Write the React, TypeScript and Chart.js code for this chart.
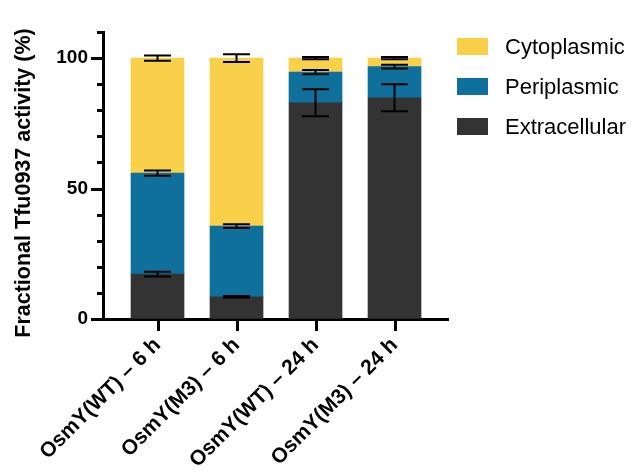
import React, { useEffect, useRef } from 'react';
import { Chart, registerables } from 'chart.js';

Chart.register(...registerables);

const categories = ['OsmY(WT) – 6 h', 'OsmY(M3) – 6 h', 'OsmY(WT) – 24 h', 'OsmY(M3) – 24 h'];
const extracellular = [17.2, 8.5, 82.9, 84.8];
const periplasmic = [38.7, 27.1, 11.7, 11.9];
const cytoplasmic = [44.1, 64.4, 5.4, 3.3];
const extracellularErr = [0.9, 0.3, 5.2, 5.2];
const periplasmicErr = [1.0, 0.7, 0.8, 0.7];
const cytoplasmicErr = [1.0, 1.5, 0.4, 0.4];
const seriesNames = ['Extracellular', 'Periplasmic', 'Cytoplasmic'];
const seriesColors = ['#333333', '#0E709B', '#F9D04A'];
const yMajorLabels = [0, 50, 100];
const yTitle = 'Fractional Tfu0937 activity (%)';

const FONT = "'Liberation Sans', Arial, Helvetica, sans-serif";

const seriesValues = [extracellular, periplasmic, cytoplasmic];
const seriesErrors = [extracellularErr, periplasmicErr, cytoplasmicErr];

const decorPlugin = {
  id: 'decor',
  afterDatasetsDraw(chart: any) {
    const ctx = chart.ctx;
    const y = chart.scales.y;
    ctx.save();
    ctx.strokeStyle = '#000';
    ctx.lineWidth = 2;
    for (let d = 0; d < seriesValues.length; d++) {
      const meta = chart.getDatasetMeta(d);
      meta.data.forEach((bar: any, i: number) => {
        let cum = 0;
        for (let k = 0; k <= d; k++) cum += seriesValues[k][i];
        const err = seriesErrors[d][i];
        const x = bar.x;
        const yTop = y.getPixelForValue(cum + err);
        const yBot = y.getPixelForValue(cum - err);
        const cap = 13.5;
        ctx.beginPath();
        ctx.moveTo(x, yTop);
        ctx.lineTo(x, yBot);
        ctx.moveTo(x - cap, yTop);
        ctx.lineTo(x + cap, yTop);
        ctx.moveTo(x - cap, yBot);
        ctx.lineTo(x + cap, yBot);
        ctx.stroke();
      });
    }
    ctx.restore();
  },
  afterDraw(chart: any) {
    const ctx = chart.ctx;
    const { left, bottom } = chart.chartArea;
    const y = chart.scales.y;
    const x = chart.scales.x;
    ctx.save();
    ctx.strokeStyle = '#000';
    ctx.lineWidth = 3;
    for (let v = 0; v <= 110; v += 10) {
      const py = Math.round(y.getPixelForValue(v)) + 0.5;
      const len = yMajorLabels.includes(v) ? 12 : 6;
      ctx.beginPath();
      ctx.moveTo(left - len, py);
      ctx.lineTo(left, py);
      ctx.stroke();
    }
    categories.forEach((_, i) => {
      const px = Math.round(x.getPixelForValue(i + 1)) + 0.5;
      ctx.beginPath();
      ctx.moveTo(px, bottom);
      ctx.lineTo(px, bottom + 12);
      ctx.stroke();
    });
    ctx.restore();

    ctx.save();
    ctx.fillStyle = '#000';
    ctx.font = `bold 21.5px ${FONT}`;
    ctx.textAlign = 'center';
    ctx.textBaseline = 'middle';
    ctx.translate(24, 183);
    ctx.rotate(-Math.PI / 2);
    ctx.fillText(yTitle, 0, 0);
    ctx.restore();

    ctx.save();
    ctx.font = `22px ${FONT}`;
    ctx.textAlign = 'left';
    ctx.textBaseline = 'middle';
    const order = [2, 1, 0];
    order.forEach((s, r) => {
      const cy = 46.5 + r * 40;
      ctx.fillStyle = seriesColors[s];
      ctx.fillRect(457, cy - 8.5, 31, 17);
      ctx.fillStyle = '#000';
      ctx.fillText(seriesNames[s], 505, cy + 1);
    });
    ctx.restore();
  },
};

export default function App() {
  const ref = useRef<HTMLCanvasElement>(null);
  useEffect(() => {
    if (!ref.current) return;
    const chart = new Chart(ref.current, {
      type: 'bar',
      data: {
        datasets: seriesValues.map((vals, s) => ({
          label: seriesNames[s],
          data: vals.map((v, i) => ({ x: i + 1, y: v })),
          backgroundColor: seriesColors[s],
          borderWidth: 0,
          barThickness: 53,
        })),
      },
      options: {
        responsive: false,
        animation: false,
        layout: { padding: { left: 0, right: 184, top: 32, bottom: 0 } },
        plugins: { legend: { display: false }, tooltip: { enabled: false } },
        scales: {
          x: {
            type: 'linear',
            stacked: true,
            offset: false,
            min: 0.31,
            max: 4.677,
            afterBuildTicks: (scale: any) => {
              scale.ticks = categories.map((_, i) => ({ value: i + 1 }));
            },
            afterFit: (scale: any) => {
              scale.height = 153;
            },
            grid: { display: true, offset: false, drawOnChartArea: false, drawTicks: true, tickLength: 12, color: 'rgba(0,0,0,0)' },
            border: { display: true, color: '#000', width: 3 },
            ticks: {
              autoSkip: false,
              minRotation: 45,
              maxRotation: 45,
              padding: 2,
              color: '#000',
              font: { family: FONT, size: 21, weight: 'bold' },
              callback: (v: any) => categories[Math.round(Number(v)) - 1] ?? '',
            },
          },
          y: {
            stacked: true,
            min: 0,
            max: 110,
            afterFit: (scale: any) => {
              scale.width = 103;
            },
            grid: { display: true, drawOnChartArea: false, drawTicks: true, tickLength: 12, color: 'rgba(0,0,0,0)' },
            border: { display: true, color: '#000', width: 3 },
            ticks: {
              stepSize: 10,
              padding: 3,
              color: '#000',
              font: { family: FONT, size: 19, weight: 'bold' },
              callback: (v: any) => (yMajorLabels.includes(Number(v)) ? String(v) : ''),
            },
          },
        },
      },
      plugins: [decorPlugin],
    } as any);
    return () => chart.destroy();
  }, []);
  return (
    <div style={{ position: 'absolute', left: 0, top: 0, width: 632, height: 472 }}>
      <canvas ref={ref} width={632} height={472} />
    </div>
  );
}
